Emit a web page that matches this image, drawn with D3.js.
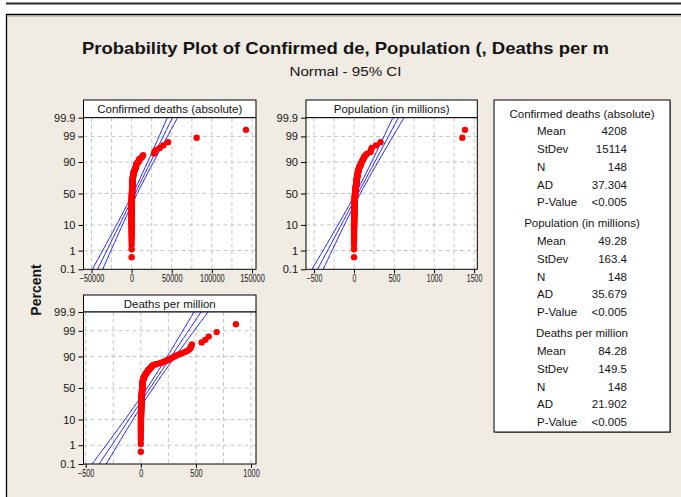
<!DOCTYPE html>
<html>
<head>
<meta charset="utf-8">
<style>
  body { margin: 0; background: #fff; }
  svg { display: block; }
  text { font-family: "Liberation Sans", Arial, sans-serif; fill: #141414; }
  .grid line { stroke: #c6c6c6; stroke-width: 1; stroke-dasharray: 4,3; }
  .axis path { display: none; }
  .axis line { stroke: #000; }
  .fit { fill: none; stroke: #1414ff; stroke-width: 1; }
</style>
</head>
<body>
<svg width="681" height="497"></svg>
<script src="https://cdn.jsdelivr.net/npm/d3@7"></script>
<script>
// values (sorted small -> large), n = 148 each
var confirmedDeaths = [
  0,0,1,2,3,5,6,7,7,9,
  10,12,13,15,17,19,20,22,24,27,
  28,31,35,36,40,43,47,50,53,58,
  60,64,68,72,77,81,86,92,98,103,
  107,113,120,128,134,141,150,158,165,173,
  182,190,200,210,221,232,245,256,268,280,
  293,305,318,330,345,358,372,385,399,412,
  427,440,455,468,482,497,512,528,545,560,
  578,595,612,630,650,670,690,700,710,740,
  760,800,820,850,870,900,930,990,1000,1050,
  1100,1100,1150,1200,1260,1350,1420,1500,1500,1560,
  1650,1700,1750,1800,1970,2100,2200,2300,2500,2650,
  2800,3100,3800,4200,4300,4630,5000,5500,5500,5600,
  5600,6150,7000,8500,8850,9100,9800,12300,13200,14400,
  28000,28400,30100,35000,39500,45300,81000,142500
];
var population = [
  0.03,0.04,0.06,0.1,0.1,0.2,0.3,0.4,0.4,0.5,
  0.6,0.7,0.8,0.9,1.0,1.2,1.3,1.4,1.6,1.9,
  2.0,2.1,2.1,2.3,2.4,2.5,2.6,2.8,2.9,3.0,
  3.3,3.5,3.8,4.0,4.1,4.3,4.6,4.8,4.9,5.1,
  5.1,5.4,5.5,5.7,5.8,6.0,6.5,6.6,6.9,7.0,
  7.1,7.5,8.0,8.3,8.7,8.9,9.0,9.4,9.7,9.9,
  10.1,10.2,10.4,10.7,10.9,11.0,11.2,11.3,11.7,11.9,
  12.1,12.9,13.1,14.4,15.0,15.9,16.4,16.7,17.0,17.1,
  17.5,17.9,18.4,18.8,19.1,19.2,20.3,20.9,21.4,22.0,
  23.8,24.2,25.5,25.8,26.4,26.5,27.7,28.4,29.1,29.5,
  30.4,31.0,31.3,32.4,32.9,33.0,33.5,34.8,36.9,37.7,
  38.0,38.9,40.2,43.9,43.9,44.1,45.2,45.7,46.8,50.9,
  51.3,53.8,54.4,59.3,59.7,60.5,65.3,67.9,69.8,83.8,
  84.0,84.3,89.6,97.3,102.3,109.6,114.9,126.5,128.9,145.9,
  164.7,206.1,212.6,220.9,273.5,331.0,1353,1386
];
var deathsPerMillion = [
  0.1,0.2,0.2,0.3,0.4,0.5,0.7,0.8,0.8,1.0,
  1.1,1.1,1.2,1.4,1.5,1.5,1.7,1.9,2.0,2.1,
  2.3,2.3,2.5,2.7,2.8,3.0,3.1,3.2,3.5,3.6,
  3.8,3.9,4.1,4.4,4.5,4.6,4.9,5.0,5.3,5.5,
  5.6,5.8,6.1,6.2,6.4,6.7,6.9,7.0,7.3,7.6,
  7.7,7.9,8.2,8.3,8.6,8.8,9.0,9.3,9.4,9.8,
  10.0,10.1,10.4,10.6,10.9,11.0,11.2,11.5,11.7,11.8,
  12.0,12.2,12.3,12.5,12.6,12.7,12.8,13.0,13.2,13.5,
  13.7,14.0,14.3,14.6,15,15.5,16,17,17.5,18,
  19,20,21,22,23,24,26,27,29,31,
  33,35,37,40,42,45,48,52,55,58,
  62,65,68,72,78,84,88,92,96,100,
  106,115,135,160,180,200,215,230,245,260,
  275,290,305,320,345,370,395,420,440,450,
  457,463,552,585,616,688,863
];

var panelNames = ["Confirmed deaths (absolute)", "Population (in millions)", "Deaths per million"];
var percentTicks = [0.1, 1, 10, 50, 90, 99, 99.9];
var percentGrid = [1, 10, 50, 90, 99];
var xTicks = [
  [-50000, 0, 50000, 100000, 150000],
  [-500, 0, 500, 1000, 1500],
  [-500, 0, 500, 1000]
];
var xGridStep = [25000, 250, 250];
var xDomains = [[-60000, 155000], [-600, 1540], [-520, 1045]];

// summary table
var statMean = [4208, 49.28, 84.28];
var statStDev = [15114, 163.4, 149.5];
var statN = [148, 148, 148];
var statAD = ["37.304", "35.679", "21.902"];
var statP = ["<0.005", "<0.005", "<0.005"];

var seriesList = [confirmedDeaths, population, deathsPerMillion];

// inverse normal cdf (Acklam)
function qnorm(p) {
  var a = [-3.969683028665376e+01, 2.209460984245205e+02, -2.759285104469687e+02, 1.383577518672690e+02, -3.066479806614716e+01, 2.506628277459239e+00];
  var b = [-5.447609879822406e+01, 1.615858368580409e+02, -1.556989798598866e+02, 6.680131188771972e+01, -1.328068155288572e+01];
  var c = [-7.784894002430293e-03, -3.223964580411365e-01, -2.400758277161838e+00, -2.549732539343734e+00, 4.374664141464968e+00, 2.938163982698783e+00];
  var d = [7.784695709041462e-03, 3.224671290700398e-01, 2.445134137142996e+00, 3.754408661907416e+00];
  var q, r;
  if (p < 0.02425) {
    q = Math.sqrt(-2 * Math.log(p));
    return (((((c[0]*q+c[1])*q+c[2])*q+c[3])*q+c[4])*q+c[5]) / ((((d[0]*q+d[1])*q+d[2])*q+d[3])*q+1);
  }
  if (p > 1 - 0.02425) {
    q = Math.sqrt(-2 * Math.log(1 - p));
    return -(((((c[0]*q+c[1])*q+c[2])*q+c[3])*q+c[4])*q+c[5]) / ((((d[0]*q+d[1])*q+d[2])*q+d[3])*q+1);
  }
  q = p - 0.5; r = q * q;
  return (((((a[0]*r+a[1])*r+a[2])*r+a[3])*r+a[4])*r+a[5])*q / (((((b[0]*r+b[1])*r+b[2])*r+b[3])*r+b[4])*r+1);
}

var svg = d3.select("svg");

// window frame
svg.append("rect").attr("x", 6).attr("y", 14).attr("width", 675).attr("height", 483).attr("fill", "#f0ebe3");
svg.append("rect").attr("x", 6).attr("y", 2.5).attr("width", 675).attr("height", 2).attr("fill", "#2a2a2a");
svg.append("line").attr("x1", 6).attr("x2", 681).attr("y1", 14.5).attr("y2", 14.5).attr("stroke", "#000").attr("stroke-width", 1.3);
svg.append("line").attr("x1", 6).attr("x2", 681).attr("y1", 16).attr("y2", 16).attr("stroke", "#9a9a9a").attr("stroke-width", 1);
svg.append("line").attr("x1", 6.5).attr("x2", 6.5).attr("y1", 14).attr("y2", 497).attr("stroke", "#000").attr("stroke-width", 1.3);

svg.append("text").attr("x", 345.5).attr("y", 54)
  .attr("text-anchor", "middle").style("font-size", "17px").style("font-weight", "bold")
  .attr("textLength", 527).attr("lengthAdjust", "spacingAndGlyphs")
  .text("Probability Plot of Confirmed de, Population (, Deaths per m");
svg.append("text").attr("x", 345.5).attr("y", 76)
  .attr("text-anchor", "middle").style("font-size", "12.5px")
  .attr("textLength", 112).attr("lengthAdjust", "spacingAndGlyphs")
  .text("Normal - 95% CI");

svg.append("text").attr("transform", "translate(41,290) rotate(-90)")
  .attr("text-anchor", "middle").style("font-size", "14px").style("font-weight", "bold")
  .text("Percent");

var panels = [
  {x0: 83.5, x1: 256, y0: 117.7, y1: 269.3, hy: 100, tw: 4.1},
  {x0: 306, x1: 477.3, y0: 117.7, y1: 269.3, hy: 100, tw: 3.9},
  {x0: 83.5, x1: 256, y0: 312, y1: 464, hy: 295, tw: 4.1}
];

var zLo = qnorm(0.001), zHi = qnorm(0.999);

panels.forEach(function(pn, k) {
  var data = seriesList[k].slice().sort(d3.ascending);
  var n = data.length;
  var x = d3.scaleLinear().domain(xDomains[k]).range([pn.x0, pn.x1]);
  var y = d3.scaleLinear().domain([zLo, zHi]).range([pn.y1, pn.y0]);
  var g = svg.append("g");

  g.append("clipPath").attr("id", "clip" + k).append("rect")
    .attr("x", pn.x0).attr("y", pn.y0).attr("width", pn.x1 - pn.x0).attr("height", pn.y1 - pn.y0);

  // header strip
  g.append("rect").attr("x", pn.x0).attr("y", pn.hy).attr("width", pn.x1 - pn.x0).attr("height", pn.y0 - pn.hy)
    .attr("fill", "#fff").attr("stroke", "#000");
  g.append("text").attr("x", (pn.x0 + pn.x1) / 2).attr("y", pn.y0 - 4.5)
    .attr("text-anchor", "middle").style("font-size", "11.5px").text(panelNames[k]);

  g.append("rect").attr("x", pn.x0).attr("y", pn.y0).attr("width", pn.x1 - pn.x0).attr("height", pn.y1 - pn.y0)
    .attr("fill", "#fff");

  // grid
  var gx = d3.range(Math.ceil(xDomains[k][0] / xGridStep[k]) * xGridStep[k], xDomains[k][1], xGridStep[k]);
  var grid = g.append("g").attr("class", "grid");
  grid.selectAll(".gv").data(gx).enter().append("line")
    .attr("x1", function(d) { return x(d); }).attr("x2", function(d) { return x(d); })
    .attr("y1", pn.y0).attr("y2", pn.y1);
  grid.selectAll(".gh").data(percentGrid).enter().append("line")
    .attr("x1", pn.x0).attr("x2", pn.x1)
    .attr("y1", function(d) { return y(qnorm(d / 100)); }).attr("y2", function(d) { return y(qnorm(d / 100)); });

  // fitted line with 95% CI
  var mu = statMean[k], sd = statStDev[k];
  var zs = d3.range(zLo - 0.2, zHi + 0.2, 0.05);
  var se = 1.96 * sd / Math.sqrt(statN[k]);
  var fitLines = [-1, 0, 1].map(function(s) {
    return zs.map(function(z) { return [mu + z * sd + s * se * Math.sqrt(1.3 + z * z * 0.6), z]; });
  });
  g.append("g").attr("clip-path", "url(#clip" + k + ")")
    .selectAll("path").data(fitLines).enter().append("path")
    .attr("class", "fit")
    .attr("d", d3.line().x(function(d) { return x(d[0]); }).y(function(d) { return y(d[1]); }));

  // points
  g.append("g").selectAll("circle").data(data).enter().append("circle")
    .attr("cx", function(d) { return x(d); })
    .attr("cy", function(d, i) { return y(qnorm((i + 1 - 0.3) / (n + 0.4))); })
    .attr("r", 3.2).attr("fill", "#ff0000");

  // frame
  g.append("rect").attr("x", pn.x0).attr("y", pn.y0).attr("width", pn.x1 - pn.x0).attr("height", pn.y1 - pn.y0)
    .attr("fill", "none").attr("stroke", "#000");

  // axes
  var ya = g.append("g").attr("class", "axis").attr("transform", "translate(" + pn.x0 + ",0)")
    .call(d3.axisLeft(y).tickValues(percentTicks.map(function(p) { return qnorm(p / 100); }))
      .tickFormat(function(d, i) { return percentTicks[i]; }).tickSize(5).tickPadding(3));
  ya.selectAll("text").style("font-size", "11px").style("font-family", "'Liberation Sans', Arial, sans-serif").attr("fill", "#141414");

  var xa = g.append("g").attr("class", "axis").attr("transform", "translate(0," + pn.y1 + ")")
    .call(d3.axisBottom(x).tickValues(xTicks[k]).tickFormat(d3.format("d")).tickSize(4).tickPadding(2));
  xa.selectAll("text").style("font-size", "10px").style("font-family", "'Liberation Sans', Arial, sans-serif").attr("fill", "#141414")
    .attr("textLength", function(d) { return String(d).length * pn.tw; })
    .attr("lengthAdjust", "spacingAndGlyphs");
});

// summary box
var box = svg.append("g");
box.append("rect").attr("x", 495).attr("y", 101).attr("width", 176).attr("height", 332).attr("fill", "#8a8a8a");
box.append("rect").attr("x", 494).attr("y", 100).attr("width", 176).attr("height", 332)
  .attr("fill", "#fff").attr("stroke", "#000");

var rowLabels = ["Mean", "StDev", "N", "AD", "P-Value"];
panelNames.forEach(function(name, k) {
  var sy = 117.5 + k * 109.9;
  box.append("text").attr("x", 582).attr("y", sy).attr("text-anchor", "middle")
    .style("font-size", "11.5px").text(name);
  var vals = [String(statMean[k]), String(statStDev[k]), String(statN[k]), statAD[k], statP[k]];
  rowLabels.forEach(function(lab, j) {
    var ry = sy + 17.6 + j * 17.8;
    box.append("text").attr("x", 537).attr("y", ry).style("font-size", "11.5px").text(lab);
    box.append("text").attr("x", 627).attr("y", ry).attr("text-anchor", "end").style("font-size", "11.5px").text(vals[j]);
  });
});
</script>
</body>
</html>
